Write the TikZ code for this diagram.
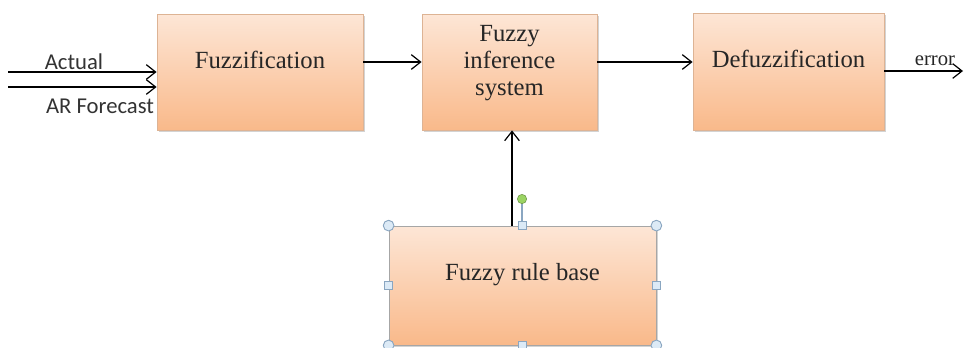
\documentclass[tikz,border=0pt]{standalone}
\usepackage{fontspec}
\setmainfont{Liberation Serif}
\newfontfamily\calib{Carlito}
\usetikzlibrary{arrows.meta,shadows}
\definecolor{boxtop}{HTML}{FDE6D6}
\definecolor{boxbot}{HTML}{F9B98A}
\definecolor{boxline}{HTML}{DDB394}
\definecolor{hfill}{HTML}{DCEAF6}
\definecolor{hline}{HTML}{8AA6C1}
\definecolor{rot}{HTML}{9BD463}
\tikzset{
  blk/.style={rectangle, draw=boxline, line width=0.6pt, top color=boxtop, bottom color=boxbot,
    drop shadow={shadow xshift=1.2pt, shadow yshift=-1.5pt, opacity=0.35}, inner sep=0pt},
  lbl/.style={font=\fontsize{18.5}{20.3}\selectfont, align=center, text=black!85},
  inl/.style={font=\calib\fontsize{17}{19}\selectfont, text=black!80},
  arr/.style={line width=0.9pt, -{Straight Barb[length=7pt,width=11pt,line width=0.9pt]}},
  hcirc/.style={circle, draw=hline, fill=hfill, line width=0.7pt, minimum size=8pt, inner sep=0pt},
  hsq/.style={rectangle, draw=hline, fill=hfill, line width=0.7pt, minimum size=6pt, inner sep=0pt},
}
\begin{document}
\begin{tikzpicture}[x=0.75pt,y=-0.75pt]
\useasboundingbox (0,0) rectangle (968,347);
% boxes
\node[blk, minimum width=154.5pt, minimum height=87pt] (fuz) at (260,72) {};
\node[blk, minimum width=131.25pt, minimum height=87pt] (inf) at (509.5,72) {};
\node[blk, minimum width=143.25pt, minimum height=87.75pt] (def) at (788.5,71.5) {};
\node[blk, draw=gray!70, minimum width=200.25pt, minimum height=89.25pt] (rb) at (522.5,285.5) {};
% texts
\node[lbl] (fuzt) at (260,60) {Fuzzification};
\node[lbl] (inft) at (509.5,63) {Fuzzy\\inference\\system};
\node[lbl] (deft) at (788.5,59) {Defuzzification};
\node[lbl] (rbt) at (522.5,275) {Fuzzy rule base};
% inputs
\coordinate (in1) at (8,72);
\coordinate (in2) at (8,87);
\coordinate (out) at (963,71);
\draw[arr] (in1) -- (fuz.west |- in1);
\draw[arr] (in2) -- (fuz.west |- in2);
\node[inl] (act) at (74,62) {Actual};
\node[inl] (arf) at (100,106) {AR Forecast};
% flow
\draw[arr] (fuz.east |- 0,62) -- (inf.west |- 0,62);
\draw[arr] (inf.east |- 0,62) -- (def.west |- 0,62);
\draw[arr] (def.east |- out) -- (out);
\node[font=\fontsize{15.5}{17}\selectfont, text=black!85] (err) at (935,61) {error};
\draw[arr] (rb.north -| 512,0) -- (inf.south -| 512,0);
% selection handles
\coordinate (rot) at (522,199);
\draw[hline, line width=0.9pt] (rb.north -| rot) -- ([yshift=-3pt]rot);
\node[circle, draw=rot!70!black, fill=rot, minimum size=7pt, inner sep=0pt] (rotc) at (rot) {};
\node[hcirc] (h1) at (rb.north west) {};
\node[hcirc] (h2) at (rb.north east) {};
\node[hcirc] (h3) at (rb.south west) {};
\node[hcirc] (h4) at (rb.south east) {};
\node[hsq] (s1) at (rb.north -| rot) {};
\node[hsq] (s2) at (rb.south -| rot) {};
\node[hsq] (s3) at (rb.west) {};
\node[hsq] (s4) at (rb.east) {};
\end{tikzpicture}
\end{document}
